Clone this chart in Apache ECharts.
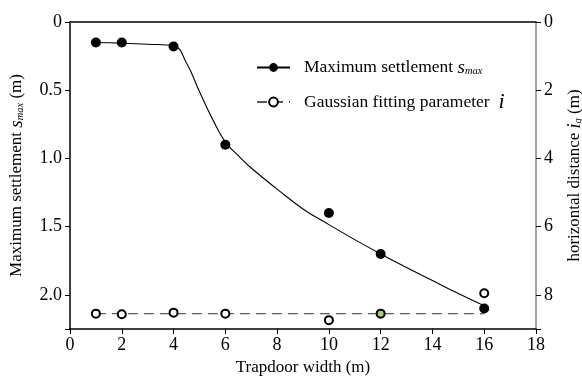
<!DOCTYPE html>
<html>
<head>
<meta charset="utf-8">
<script src="https://cdn.jsdelivr.net/npm/echarts@6/dist/echarts.min.js"></script>
<style>
  html, body { margin: 0; padding: 0; background: #fff; }
  #chart { width: 582px; height: 381px; }
</style>
</head>
<body>
<div id="chart"></div>
<script>
// Trapdoor widths tested (m)
const widths = [1, 2, 4, 6, 10, 12, 16];
// Measured maximum settlement s_max (m)
const settlement = [0.15, 0.15, 0.18, 0.90, 1.40, 1.70, 2.10];
// Gaussian fitting parameter i (m)
const gaussI = [8.55, 8.57, 8.52, 8.55, 8.74, 8.55, 7.95];
// Fitted settlement curve
const fitX = [1, 2, 3, 4, 4.5, 5.0, 5.5, 6.0, 6.5, 7, 8, 9, 10, 11, 12, 13, 14, 15, 16];
const fitY = [0.15, 0.155, 0.163, 0.175, 0.30, 0.51, 0.71, 0.88, 0.98, 1.07, 1.225, 1.37, 1.485, 1.595, 1.70, 1.80, 1.895, 1.99, 2.08];
// Mean level of the Gaussian parameter
const gaussMeanX = [1, 16];
const gaussMean = 8.55;
// Axis ticks
const xTicks = [0, 2, 4, 6, 8, 10, 12, 14, 16, 18];
const leftTicks = [0, 0.5, 1.0, 1.5, 2.0];
const rightTicks = [0, 2, 4, 6, 8];

const FONT = 'Liberation Serif';
const chart = echarts.init(document.getElementById('chart'), null, { renderer: 'canvas' });

const NAME_S = 'Maximum settlement';
const NAME_I = 'Gaussian fitting parameter';

chart.setOption({
  backgroundColor: '#fff',
  animation: false,
  textStyle: { fontFamily: FONT, color: '#000' },
  grid: { left: 70, right: 46, top: 22, bottom: 52, containLabel: false, outerBoundsMode: 'none' },
  legend: {
    orient: 'vertical',
    left: 256,
    top: 58,
    padding: 0,
    itemWidth: 33,
    itemHeight: 11,
    itemGap: 14,
    data: [NAME_S, NAME_I],
    formatter: function (name) {
      if (name === NAME_S) return '{t|Maximum settlement }{s|s}{sub|max}';
      return '{t|Gaussian fitting parameter  }{i|i}';
    },
    textStyle: {
      fontFamily: FONT,
      color: '#000',
      padding: [0, 0, 0, 9],
      rich: {
        t: { fontFamily: FONT, fontSize: 17.5, color: '#000' },
        s: { fontFamily: FONT, fontSize: 19, fontStyle: 'italic', color: '#000' },
        sub: { fontFamily: FONT, fontSize: 10.5, fontStyle: 'italic', color: '#000', verticalAlign: 'bottom', padding: [6, 0, 0, 0] },
        i: { fontFamily: FONT, fontSize: 22, fontStyle: 'italic', color: '#000' }
      }
    }
  },
  xAxis: [{
    type: 'value',
    min: 0, max: 18, interval: 2,
    name: 'Trapdoor width (m)',
    nameLocation: 'middle',
    nameGap: 28,
    nameTextStyle: { fontFamily: FONT, fontSize: 17, color: '#000' },
    axisLine: { show: true, onZero: false, lineStyle: { color: '#000', width: 1.5 } },
    axisTick: { show: true, length: 5, lineStyle: { color: '#000', width: 1 } },
    axisLabel: {
      fontFamily: FONT, fontSize: 18, color: '#000', margin: 7,
      formatter: v => (xTicks.indexOf(v) >= 0 ? String(v) : '')
    },
    splitLine: { show: false }
  }, {
    type: 'value',
    position: 'top',
    min: 0, max: 18,
    axisLine: { show: true, lineStyle: { color: '#000', width: 1.5 } },
    axisTick: { show: false },
    axisLabel: { show: false },
    splitLine: { show: false }
  }],
  yAxis: [{
    type: 'value',
    inverse: true,
    min: 0, max: 2.25, interval: 0.5,
    name: '{t|Maximum settlement }{s|s}{sub|max}{t| (m)}',
    nameLocation: 'middle',
    nameRotate: 90,
    nameGap: 44,
    nameTextStyle: {
      fontFamily: FONT,
      rich: {
        t: { fontFamily: FONT, fontSize: 17, color: '#000' },
        s: { fontFamily: FONT, fontSize: 19, fontStyle: 'italic', color: '#000' },
        sub: { fontFamily: FONT, fontSize: 10.5, fontStyle: 'italic', color: '#000', verticalAlign: 'bottom', padding: [6, 0, 0, 0] }
      }
    },
    axisLine: { show: true, onZero: false, lineStyle: { color: '#000', width: 1.5 } },
    axisTick: { show: true, length: 5, lineStyle: { color: '#000', width: 1 } },
    axisLabel: {
      fontFamily: FONT, fontSize: 18, color: '#000', margin: 8,
      formatter: v => {
        const hit = leftTicks.find(t => Math.abs(t - v) < 1e-9);
        if (hit === undefined) return '';
        return hit === 0 ? '0' : hit.toFixed(1);
      }
    },
    splitLine: { show: false }
  }, {
    type: 'value',
    inverse: true,
    position: 'right',
    min: 0, max: 9, interval: 2,
    name: '{t|horizontal distance }{s|i}{sub|g}{t| (m)}',
    nameLocation: 'middle',
    nameRotate: 90,
    nameGap: 30,
    nameTextStyle: {
      fontFamily: FONT,
      rich: {
        t: { fontFamily: FONT, fontSize: 17, color: '#000' },
        s: { fontFamily: FONT, fontSize: 18, fontStyle: 'italic', color: '#000' },
        sub: { fontFamily: FONT, fontSize: 10.5, fontStyle: 'italic', color: '#000', verticalAlign: 'bottom', padding: [6, 0, 0, 0] }
      }
    },
    axisLine: { show: true, onZero: false, lineStyle: { color: '#808080', width: 1.5 } },
    axisTick: { show: true, length: 5, lineStyle: { color: '#000', width: 1 } },
    axisLabel: {
      fontFamily: FONT, fontSize: 18, color: '#000', margin: 8,
      formatter: v => (rightTicks.indexOf(v) >= 0 ? String(v) : '')
    },
    splitLine: { show: false }
  }],
  series: [
    {
      name: NAME_S,
      type: 'line',
      xAxisIndex: 0, yAxisIndex: 0,
      data: fitX.map((x, k) => [x, fitY[k]]),
      smooth: 0.45,
      symbol: 'circle',
      showSymbol: false,
      itemStyle: { color: '#000' },
      lineStyle: { color: '#000', width: 1.1 },
      z: 2
    },
    {
      name: NAME_S,
      type: 'scatter',
      xAxisIndex: 0, yAxisIndex: 0,
      data: widths.map((x, k) => [x, settlement[k]]),
      symbol: 'circle',
      symbolSize: 10,
      itemStyle: { color: '#000', opacity: 1 },
      z: 4
    },
    {
      name: NAME_I,
      type: 'line',
      xAxisIndex: 0, yAxisIndex: 1,
      data: gaussMeanX.map(x => [x, gaussMean]),
      symbol: 'emptyCircle',
      showSymbol: false,
      itemStyle: { color: '#000' },
      lineStyle: { color: '#5a5a5a', width: 1.3, type: [10, 6] },
      z: 2
    },
    {
      name: NAME_I,
      type: 'scatter',
      xAxisIndex: 0, yAxisIndex: 1,
      data: widths.map((x, k) => {
        const item = { value: [x, gaussI[k]] };
        if (x === 12) item.itemStyle = { color: '#a9cc7a', borderColor: '#000', borderWidth: 2 };
        return item;
      }),
      symbol: 'circle',
      symbolSize: 8,
      itemStyle: { color: '#fff', borderColor: '#000', borderWidth: 2, opacity: 1 },
      z: 5
    }
  ]
});
</script>
</body>
</html>
